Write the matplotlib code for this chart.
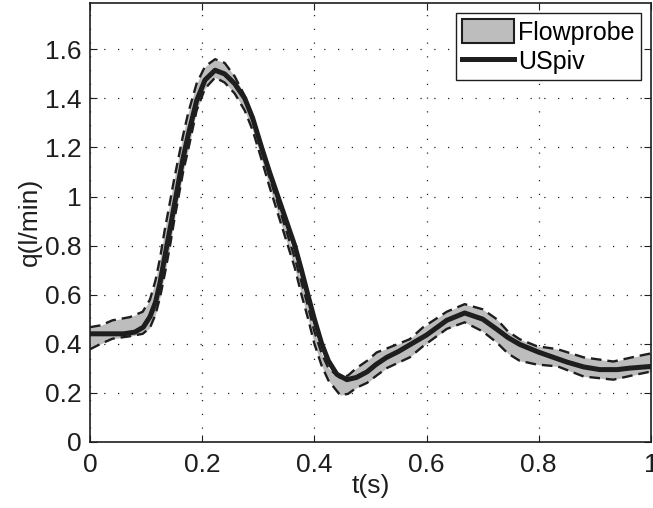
import matplotlib
matplotlib.use("Agg")
import matplotlib.pyplot as plt
from matplotlib.patches import Patch
from matplotlib.lines import Line2D

# USpiv measurement
t_piv = [0.000, 0.030, 0.060, 0.080, 0.095, 0.107, 0.117, 0.125, 0.133, 0.142,
         0.150, 0.158, 0.166, 0.175, 0.190, 0.205, 0.223, 0.240, 0.258, 0.276,
         0.290, 0.306, 0.320, 0.335, 0.350, 0.365, 0.377, 0.389, 0.400, 0.413,
         0.425, 0.440, 0.458, 0.475, 0.494, 0.510, 0.529, 0.550, 0.570, 0.600,
         0.636, 0.668, 0.700, 0.725, 0.745, 0.766, 0.800, 0.850, 0.880, 0.909,
         0.940, 0.962, 1.000]
q_piv = [0.440, 0.440, 0.440, 0.447, 0.467, 0.510, 0.570, 0.650, 0.750, 0.860,
         0.960, 1.060, 1.157, 1.250, 1.390, 1.475, 1.515, 1.500, 1.460, 1.400,
         1.320, 1.200, 1.100, 1.000, 0.900, 0.800, 0.700, 0.594, 0.500, 0.400,
         0.330, 0.275, 0.253, 0.262, 0.285, 0.315, 0.344, 0.368, 0.395, 0.435,
         0.495, 0.525, 0.500, 0.459, 0.425, 0.397, 0.365, 0.325, 0.305, 0.294,
         0.294, 0.300, 0.307]

# Flowprobe band (upper / lower)
t_flow = [0.000, 0.020, 0.040, 0.071, 0.094, 0.107, 0.117, 0.125, 0.133, 0.142,
          0.150, 0.158, 0.166, 0.175, 0.190, 0.205, 0.223, 0.240, 0.258, 0.276,
          0.290, 0.306, 0.320, 0.335, 0.350, 0.365, 0.377, 0.389, 0.400, 0.413,
          0.425, 0.446, 0.460, 0.475, 0.494, 0.511, 0.529, 0.570, 0.594, 0.636,
          0.668, 0.700, 0.725, 0.745, 0.766, 0.796, 0.834, 0.880, 0.933, 0.974,
          1.000]
q_up = [0.467, 0.475, 0.495, 0.508, 0.530, 0.580, 0.660, 0.750, 0.860, 0.970,
        1.070, 1.160, 1.250, 1.340, 1.460, 1.530, 1.560, 1.545, 1.490, 1.410,
        1.320, 1.190, 1.080, 0.970, 0.860, 0.750, 0.650, 0.550, 0.450, 0.360,
        0.300, 0.260, 0.270, 0.300, 0.330, 0.364, 0.380, 0.418, 0.467, 0.530,
        0.561, 0.540, 0.500, 0.450, 0.418, 0.390, 0.377, 0.344, 0.327, 0.348,
        0.360]
q_lo = [0.377, 0.400, 0.420, 0.430, 0.440, 0.465, 0.520, 0.590, 0.680, 0.790,
        0.900, 1.000, 1.100, 1.190, 1.350, 1.440, 1.485, 1.465, 1.420, 1.350,
        1.270, 1.150, 1.040, 0.930, 0.820, 0.710, 0.600, 0.500, 0.400, 0.310,
        0.250, 0.190, 0.195, 0.220, 0.240, 0.270, 0.300, 0.344, 0.390, 0.460,
        0.487, 0.450, 0.405, 0.360, 0.330, 0.315, 0.307, 0.266, 0.253, 0.274,
        0.286]

y_ticks = [0, 0.2, 0.4, 0.6, 0.8, 1, 1.2, 1.4, 1.6]
x_ticks = [0, 0.2, 0.4, 0.6, 0.8, 1]

plt.rcParams['font.family'] = ['Liberation Sans', 'DejaVu Sans']

fig = plt.figure(figsize=(6.53, 5.08), dpi=100)
ax = fig.add_axes([0.1378, 0.1305, 0.859, 0.864])

grey = '#bdbdbd'
dk = '#1e1e1e'
ax.fill_between(t_flow, q_lo, q_up, color=grey, lw=0, zorder=2)
ax.plot(t_flow, q_up, color=dk, lw=1.7, ls=(0, (4.5, 2.5)), zorder=3)
ax.plot(t_flow, q_lo, color=dk, lw=1.7, ls=(0, (4.5, 2.5)), zorder=3)
ax.plot(t_piv, q_piv, color=dk, lw=3.6, zorder=4, solid_joinstyle='round')

ax.set_xlim(0, 1)
ax.set_ylim(0, 1.79)
ax.set_xticks(x_ticks)
ax.set_yticks(y_ticks)
ax.set_xticklabels(['0', '0.2', '0.4', '0.6', '0.8', '1'])
ax.set_yticklabels(['0', '0.2', '0.4', '0.6', '0.8', '1', '1.2', '1.4', '1.6'])
ax.grid(True, color='#222222', ls=(0, (1, 10)), lw=0.9)
ax.tick_params(direction='in', length=5, width=0.8, labelsize=19, colors=dk,
               top=True, right=True, pad=6)
ax.tick_params(axis='x', pad=8)
for s in ax.spines.values():
    s.set_linewidth(1.2)
    s.set_color(dk)

ax.set_xlabel('t(s)', fontsize=19, labelpad=-2, color=dk)
ax.set_ylabel('q(l/min)', fontsize=19, labelpad=2, color=dk)

handles = [Patch(facecolor=grey, edgecolor=dk, lw=1.5),
           Line2D([], [], color=dk, lw=3.6)]
leg = ax.legend(handles, ['Flowprobe', 'USpiv'], loc='upper right',
                fontsize=18, frameon=True, fancybox=False, handlelength=2.1,
                handleheight=1.1, handletextpad=0.15, borderpad=0.25,
                labelspacing=0.15, borderaxespad=0.4)
leg.get_frame().set_edgecolor(dk)
leg.get_frame().set_linewidth(1.0)
leg.get_frame().set_alpha(1)

fig.savefig('out.png', dpi=100)
